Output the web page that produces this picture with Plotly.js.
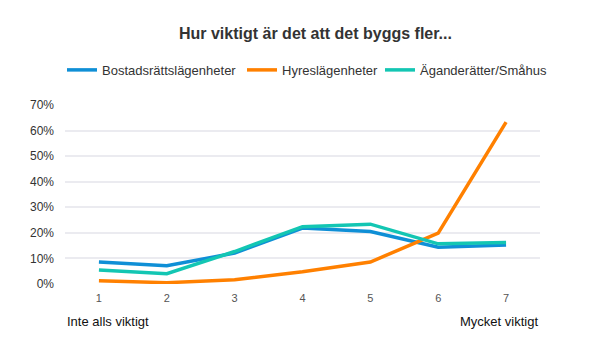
<!DOCTYPE html>
<html>
<head>
<meta charset="utf-8">
<script src="https://cdn.plot.ly/plotly-3.0.1.min.js"></script>
<style>html,body{margin:0;padding:0;background:#fff;}#chart{width:602px;height:355px;}</style>
</head>
<body>
<div id="chart"></div>
<script>
const categories = [1, 2, 3, 4, 5, 6, 7];
const seriesNames = ["Bostadsrättslägenheter", "Hyreslägenheter", "Äganderätter/Småhus"];
const bostadsratt = [0.086, 0.071, 0.121, 0.219, 0.205, 0.144, 0.153];
const hyres = [0.013, 0.005, 0.017, 0.048, 0.086, 0.199, 0.633];
const aganderatt = [0.055, 0.040, 0.127, 0.224, 0.234, 0.157, 0.162];
const yTicks = [0, 0.1, 0.2, 0.3, 0.4, 0.5, 0.6, 0.7];
const endLabels = ["Inte alls viktigt", "Mycket viktigt"];
const colors = ["#0f8fd6", "#ff8000", "#13c6b3"];

const values = [bostadsratt, hyres, aganderatt];
const legendIds = ["legend", "legend2", "legend3"];
const traces = values.map((v, i) => ({
  x: categories, y: v, type: "scatter", mode: "lines", name: seriesNames[i],
  line: {color: colors[i], width: 3.5}, hoverinfo: "none", legend: legendIds[i]
}));

const font = "Liberation Sans, Arial, sans-serif";
const legendBase = (x) => ({orientation: "h", xref: "container", yref: "container", x: x, xanchor: "left", y: 0.803, yanchor: "middle", font: {size: 13, color: "#333"}, itemwidth: 30, bgcolor: "rgba(0,0,0,0)"});
const layout = {
  width: 602, height: 355,
  margin: {l: 65, r: 62, t: 105, b: 71},
  paper_bgcolor: "#fff", plot_bgcolor: "#fff",
  font: {family: font, color: "#333"},
  title: {text: "<b>Hur viktigt är det att det byggs fler...</b>", font: {size: 16, color: "#333", family: font}, x: 0.524, xanchor: "center", xref: "container", y: 0.905, yanchor: "middle"},
  showlegend: true,
  legend: legendBase(62 / 602),
  legend2: legendBase(242 / 602),
  legend3: legendBase(380 / 602),
  xaxis: {range: [0.5, 7.5], tickvals: categories, ticktext: categories.map(String), showgrid: false, zeroline: false, showline: false, ticks: "", tickfont: {size: 11, color: "#555"}, ticklabelstandoff: 6, fixedrange: true},
  yaxis: {range: [0, 0.7], tickvals: yTicks, tickformat: ".0%", showgrid: true, gridcolor: "#ebebf0", gridwidth: 2, zeroline: false, showline: false, ticks: "", tickfont: {size: 12, color: "#333"}, ticklabelstandoff: 10, fixedrange: true},
  annotations: [
    {text: endLabels[0], xref: "paper", yref: "paper", x: 0, y: -0.21, xanchor: "left", yanchor: "middle", showarrow: false, font: {size: 13, color: "#111"}},
    {text: endLabels[1], xref: "paper", yref: "paper", x: 1, y: -0.21, xanchor: "right", yanchor: "middle", showarrow: false, font: {size: 13, color: "#111"}}
  ]
};
Plotly.newPlot("chart", traces, layout, {displayModeBar: false, staticPlot: true});
</script>
</body>
</html>
